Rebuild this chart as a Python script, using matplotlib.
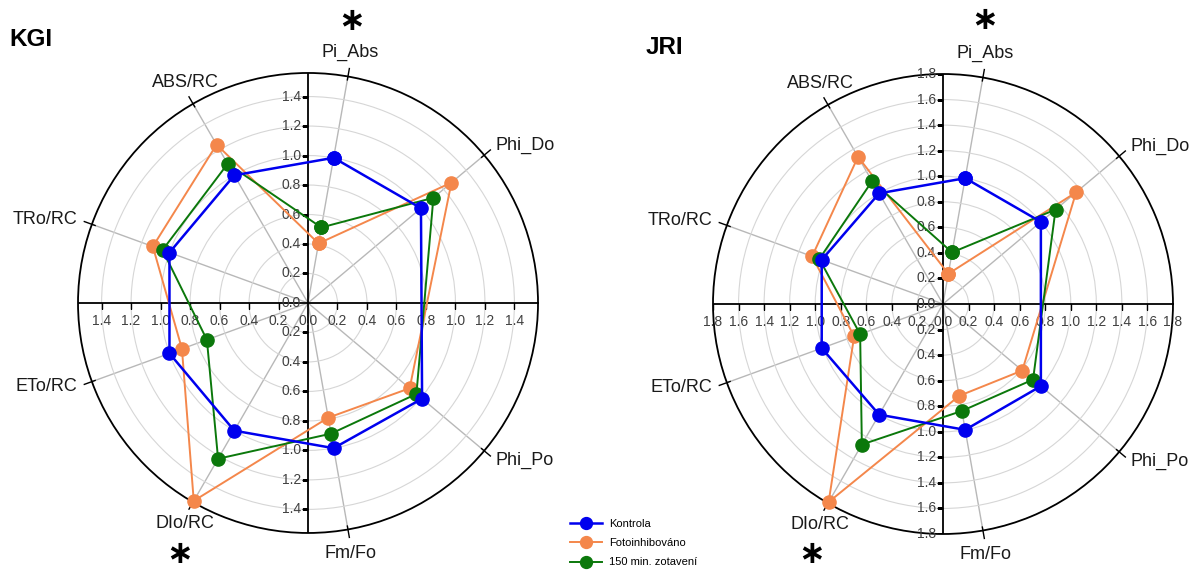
import numpy as np
import matplotlib.pyplot as plt

plt.rcParams['font.family'] = ['Liberation Sans', 'DejaVu Sans']

labels = ['Pi_Abs', 'Phi_Do', 'Phi_Po', 'Fm/Fo', 'DIo/RC', 'ETo/RC', 'TRo/RC', 'ABS/RC']
series = ['Kontrola', 'Fotoinhibováno', '150 min. zotavení']

# KGI, values relative to control
kgi_kontrola = [1.00, 1.00, 1.01, 1.00, 1.00, 1.00, 1.00, 1.00]
kgi_foto = [0.41, 1.27, 0.90, 0.79, 1.55, 0.91, 1.12, 1.24]
kgi_zotaveni = [0.52, 1.11, 0.96, 0.90, 1.22, 0.73, 1.05, 1.09]

# JRI
jri_kontrola = [1.00, 1.00, 1.00, 1.00, 1.00, 1.01, 1.01, 1.00]
jri_foto = [0.24, 1.36, 0.81, 0.73, 1.79, 0.74, 1.09, 1.33]
jri_zotaveni = [0.41, 1.15, 0.92, 0.85, 1.27, 0.69, 1.03, 1.11]

colors = ['#0000ee', '#f4874b', '#0b780b']
widths = [1.8, 1.4, 1.4]
zorders = [6, 4, 5]

# nine slots of 40 deg, the one at 0 deg is left empty
slot = np.array([0, 1, 3, 4, 5, 6, 7, 8])
theta = np.deg2rad(80 - 40 * slot)

fig = plt.figure(figsize=(11.92, 5.71), dpi=100)


def _radar(rect, data, rmax, rings, title, title_xy):
    ax = fig.add_axes(rect, projection='polar')
    ax.set_ylim(0, rmax)
    ax.set_xticks([])
    ax.set_yticks(rings)
    ax.set_yticklabels([])
    ax.yaxis.grid(True, color='#d6d6d6', lw=0.8)
    ax.spines['polar'].set_linewidth(1.3)

    # spokes with a short black tick past the rim
    for th, name in zip(theta, labels):
        ax.plot([th, th], [0, rmax], color='#b8b8b8', lw=1.0, zorder=1)
        ax.plot([th, th], [rmax * 0.985, rmax * 1.035], color='black', lw=1.0,
                clip_on=False, zorder=3)
        c, s = np.cos(th), np.sin(th)
        ha = 'left' if c > 0.6 else ('right' if c < -0.6 else 'center')
        va = 'bottom' if s > 0.7 else ('top' if s < -0.7 else 'center')
        ax.annotate(name, xy=(th, rmax), xytext=(11 * c, 11 * s),
                    textcoords='offset points', ha=ha, va=va, fontsize=13,
                    color='#1a1a1a', annotation_clip=False)

    # cross of value axes
    for a in [0, np.pi / 2, np.pi, 3 * np.pi / 2]:
        ax.plot([a, a], [0, rmax], color='black', lw=1.3, zorder=2)
    ax.plot([np.pi / 2] * len(rings), rings, ls='none', marker=0, ms=4,
            mew=1.0, color='black', zorder=2)
    ax.plot([3 * np.pi / 2] * len(rings), rings, ls='none', marker=0, ms=4,
            mew=1.0, color='black', zorder=2)
    ax.plot([0] * len(rings), rings, ls='none', marker=3, ms=4,
            mew=1.0, color='black', zorder=2)
    ax.plot([np.pi] * len(rings), rings, ls='none', marker=3, ms=4,
            mew=1.0, color='black', zorder=2)

    tick_kw = dict(textcoords='offset points', fontsize=10, color='#404040',
                   annotation_clip=False)
    for r in [0.0] + list(rings):
        txt = '{:.1f}'.format(r)
        ax.annotate(txt, xy=(np.pi / 2, r), xytext=(-5, 0), ha='right', va='center', **tick_kw)
        if r > 0:
            ax.annotate(txt, xy=(3 * np.pi / 2, r), xytext=(-5, 0), ha='right', va='center', **tick_kw)
            ax.annotate(txt, xy=(np.pi, r), xytext=(0, -8), ha='center', va='top', **tick_kw)
        ax.annotate(txt, xy=(0, r), xytext=(0, -8), ha='center', va='top', **tick_kw)

    lines = []
    for vals, col, lw, z in zip(data, colors, widths, zorders):
        v = list(vals) + [vals[0]]
        th = list(theta) + [theta[0]]
        ln, = ax.plot(th, v, color=col, lw=lw, marker='o', ms=9.5,
                      mec=col, mfc=col, clip_on=False, zorder=z)
        lines.append(ln)

    fig.text(title_xy[0], title_xy[1], title, fontsize=17.5, fontweight='bold',
             ha='left', va='center')
    return ax, lines


rings_kgi = [0.2, 0.4, 0.6, 0.8, 1.0, 1.2, 1.4]
rings_jri = [0.2, 0.4, 0.6, 0.8, 1.0, 1.2, 1.4, 1.6, 1.8]

ax1, lines = _radar([0.0654, 0.0666, 0.386, 0.8056],
                    [kgi_kontrola, kgi_foto, kgi_zotaveni],
                    1.56, rings_kgi, 'KGI', (0.008, 1 - 40 / 571))
ax2, _ = _radar([0.5981, 0.0648, 0.386, 0.8056],
                [jri_kontrola, jri_foto, jri_zotaveni],
                1.8, rings_jri, 'JRI', (0.542, 1 - 48 / 571))

# significance marks (asterisk operator sits on the math axis)
for x, y in [(352, 22), (180, 555), (985, 21), (812, 555)]:
    fig.text(x / 1192, 1 - y / 571, '\u2217', fontsize=23, fontweight='bold',
             ha='center', va='center')

fig.legend(lines, series, loc='center left', bbox_to_anchor=(570 / 1192, 1 - 543 / 571),
           frameon=False, fontsize=8, handlelength=2.9, handletextpad=0.6,
           labelspacing=0.85, borderpad=0, borderaxespad=0, markerscale=0.9)

fig.savefig('out.png', dpi=100)
